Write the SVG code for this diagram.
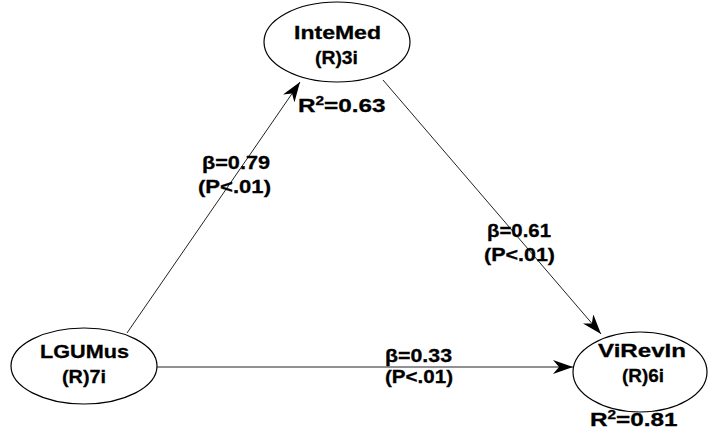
<svg xmlns="http://www.w3.org/2000/svg" width="708" height="430" viewBox="0 0 708 430">
<defs>
<marker id="arr" markerUnits="userSpaceOnUse" viewBox="0 0 20 14" markerWidth="20" markerHeight="14" refX="20" refY="7" orient="auto">
<path d="M0,0 L20,7 L0,14 L6,7 z" fill="#000"/>
</marker>
<style>
.node ellipse{fill:#fff;stroke:#000;stroke-width:1.2}
text{font-family:"Liberation Sans",Arial,sans-serif;font-weight:bold;font-size:19px;fill:#000;stroke:#000;stroke-width:0.3}
.edge{stroke:#222;stroke-width:1;fill:none;marker-end:url(#arr)}
</style>
</defs>
<rect width="708" height="430" fill="#fff"/>
<g id="connectors">
<line class="edge" x1="127" y1="333" x2="300" y2="82"/>
<line class="edge" x1="383" y1="80" x2="601" y2="334"/>
<line class="edge" x1="157" y1="367" x2="573" y2="367"/>
</g>
<g id="InteMed" class="node">
<ellipse cx="337" cy="42" rx="73" ry="40"/>
<text x="294" y="39" textLength="87" lengthAdjust="spacingAndGlyphs">InteMed</text>
<text x="315" y="64" textLength="43" lengthAdjust="spacingAndGlyphs">(R)3i</text>
</g>
<g id="LGUMus" class="node">
<ellipse cx="84" cy="366" rx="73" ry="38"/>
<text x="40" y="358" textLength="89" lengthAdjust="spacingAndGlyphs">LGUMus</text>
<text x="62" y="383" textLength="44" lengthAdjust="spacingAndGlyphs">(R)7i</text>
</g>
<g id="ViRevIn" class="node">
<ellipse cx="640" cy="372" rx="67" ry="40"/>
<text x="598" y="357" textLength="88" lengthAdjust="spacingAndGlyphs">ViRevIn</text>
<text x="622" y="382" textLength="42" lengthAdjust="spacingAndGlyphs">(R)6i</text>
</g>
<g id="labels">
<text transform="translate(298,112) scale(1.28,1)">R<tspan font-size="12" dy="-7">2</tspan><tspan dy="7">=0.63</tspan></text>
<text x="202" y="169" textLength="68" lengthAdjust="spacingAndGlyphs">β=0.79</text>
<text x="198" y="193" textLength="73" lengthAdjust="spacingAndGlyphs">(P&lt;.01)</text>
<text x="487" y="237" textLength="64" lengthAdjust="spacingAndGlyphs">β=0.61</text>
<text x="484" y="261" textLength="71" lengthAdjust="spacingAndGlyphs">(P&lt;.01)</text>
<text x="385" y="362" textLength="67" lengthAdjust="spacingAndGlyphs">β=0.33</text>
<text x="385" y="383" textLength="68" lengthAdjust="spacingAndGlyphs">(P&lt;.01)</text>
<text transform="translate(590,426) scale(1.28,1)">R<tspan font-size="12" dy="-7">2</tspan><tspan dy="7">=0.81</tspan></text>
</g>
</svg>
